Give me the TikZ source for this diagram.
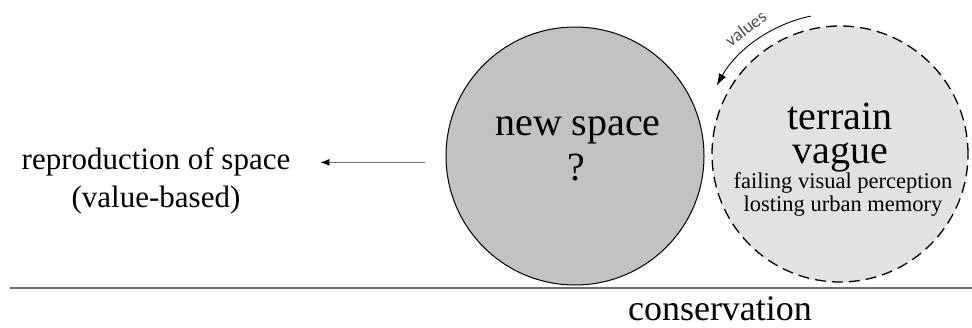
\documentclass[tikz,border=0pt]{standalone}
\usepackage{fontspec}
\setmainfont{Liberation Serif}
\newfontfamily\valuesfont{Carlito}
\usetikzlibrary{arrows.meta,positioning}
\definecolor{newgray}{HTML}{C2C2C2}
\definecolor{vaguegray}{HTML}{E2E2E2}
\definecolor{linegray}{HTML}{6E6E6E}

\begin{document}
\begin{tikzpicture}[x=1pt,y=1pt,>=Latex, every node/.style={align=center,inner sep=0pt}]
  \useasboundingbox (0,0) rectangle (972,327);
  \tikzset{
    newcircle/.style={circle,draw,line width=1pt,fill=newgray,minimum size=258pt},
    vaguecircle/.style={circle,draw,line width=1.3pt,dash pattern=on 11pt off 6pt,fill=vaguegray,minimum size=256pt},
    bigtext/.style={anchor=base,font=\fontsize{40}{42}\selectfont},
    midtext/.style={anchor=base,font=\fontsize{31}{34}\selectfont},
    smalltext/.style={anchor=base,font=\fontsize{22.5}{25}\selectfont}
  }
  % circles
  \node[newcircle] (newspace) at (575,171) {};
  \node[vaguecircle] (vague) at (840,173) {};
  % ground line
  \coordinate (groundL) at (10,39);
  \coordinate (groundR) at (972,39);
  \draw[linegray,line width=1.8pt] (groundL) -- (groundR);
  % texts in the circles
  \node[bigtext] (newA) at (578,191) {new space};
  \node[bigtext] (newB) at (576,146) {?};
  \node[bigtext] (vagueA) at (840,197) {terrain};
  \node[bigtext] (vagueB) at (840,163) {vague};
  \node[smalltext] (vagueC) at (843,139) {failing visual perception};
  \node[smalltext] (vagueD) at (843,115) {losting urban memory};
  % left text and arrow
  \node[midtext] (reproA) at (156,157) {reproduction of space};
  \node[midtext] (reproB) at (156,119) {(value-based)};
  \draw[linegray,line width=0.9pt,-{Latex[length=9pt,width=7pt,color=black]}]
    ([xshift=-21pt]newspace.west |- reproA.east) -- ([xshift=30pt]reproA.east);
  % bottom text
  \node[anchor=base,font=\fontsize{36}{38}\selectfont] (conserv) at (720,7) {conservation};
  % values arrow
  \draw[line width=0.9pt,-{Latex[length=12pt,width=8pt]}]
    ([shift={(102:141pt)}]vague.center) arc[start angle=102,end angle=151,radius=141pt];
  \node[rotate=37,text=black!70,font=\valuesfont\fontsize{18}{20}\selectfont] (values)
    at ([shift={(127:157pt)}]vague.center) {values};
\end{tikzpicture}
\end{document}
